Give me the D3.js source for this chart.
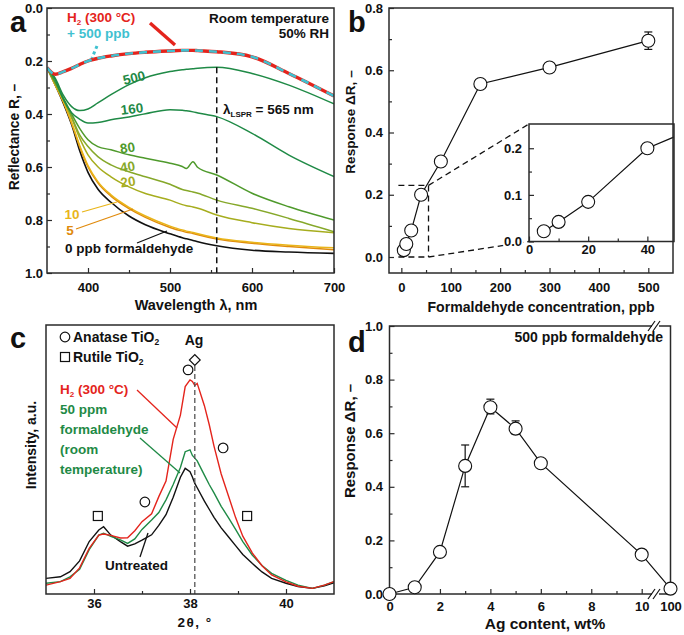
<!DOCTYPE html>
<html><head><meta charset="utf-8">
<script src="https://cdn.jsdelivr.net/npm/d3@7"></script>
<style>
body{margin:0;background:#fff}
svg text{font-family:"Liberation Sans",Arial,Helvetica,sans-serif;font-weight:bold}
</style></head><body>
<svg id="c" width="684" height="635" xmlns="http://www.w3.org/2000/svg"></svg>
<script>
// ---------- Panel a : reflectance spectra ----------
const wavelengths = [350,360,370,380,390,400,412,428,450,470,500,515,520,528,534,557,600,645,700];
const refl0   = [.225,.29,.36,.44,.54,.62,.683,.733,.785,.818,.852,.867,.871,.877,.882,.897,.914,.921,.926];
const refl5   = [.225,.29,.355,.435,.525,.60,.66,.71,.757,.79,.828,.842,.846,.851,.856,.872,.888,.90,.912];
const refl10  = [.225,.29,.355,.432,.52,.595,.655,.705,.752,.785,.823,.838,.842,.847,.852,.868,.884,.895,.905];
const refl20  = [.225,.285,.345,.415,.492,.554,.599,.637,.675,.70,.725,.742,.746,.751,.756,.781,.81,.832,.848];
const refl40  = [.225,.285,.345,.41,.48,.523,.561,.592,.618,.637,.665,.685,.689,.694,.699,.725,.756,.794,.844];
const refl80  = [.225,.28,.34,.40,.455,.497,.523,.535,.554,.567,.586,.598,.606,.58,.602,.63,.699,.75,.80];
const refl160 = [.225,.27,.345,.395,.42,.434,.432,.422,.411,.399,.384,.386,.388,.392,.396,.41,.473,.555,.636];
const refl500 = [.225,.265,.33,.372,.387,.381,.358,.327,.289,.263,.24,.233,.231,.229,.227,.224,.247,.291,.362];
const reflH2  = [.225,.25,.24,.228,.213,.20,.19,.181,.172,.167,.162,.16,.16,.16,.161,.165,.184,.247,.332];
const reflH2plus500 = [.225,.25,.24,.228,.213,.20,.19,.181,.172,.167,.162,.16,.16,.16,.161,.165,.184,.247,.332];
const lsprWavelength = 557;
const aXTicks = [400,500,600,700], aXMinor = [450,550,650];
const aYTicks = [0,.2,.4,.6,.8,1], aYMinor = [.1,.3,.5,.7,.9];

// ---------- Panel b : response vs concentration ----------
const concPpb = [5,10,20,40,80,160,300,500];
const responseB = [0.022,0.042,0.085,0.2,0.307,0.556,0.609,0.695];
const responseBErr = [0,0,0,0,0,0,0,0.028];
const bXTicks = [0,100,200,300,400,500], bXMinor = [50,150,250,350,450];
const bYTicks = [0,.2,.4,.6,.8], bYMinor = [.1,.3,.5,.7];
const insetXTicks = [0,20,40], insetXMinor = [10,30];
const insetYTicks = [0,.1,.2], insetYMinor = [.05,.15];

// ---------- Panel c : XRD ----------
const twoTheta = [35.0,35.3,35.5,35.7,35.9,36.1,36.2,36.35,36.55,36.7,36.85,37.0,37.2,37.35,37.5,37.65,37.8,37.9,38.0,38.05,38.1,38.15,38.3,38.4,38.5,38.65,38.8,38.95,39.1,39.3,39.5,39.7,40.0,40.25,40.55,40.8,41.0];
const xrdUntreated = [5.8,6.4,8.3,12.3,19.5,23.8,25.0,21.9,19.5,17.8,18.6,20.0,22.0,25.5,29.5,36,43.4,46.7,45.5,43.5,41.1,39.5,34.5,31.5,28.5,24.6,21.3,18.0,14.7,11.3,8.2,5.8,4.0,2.8,2.1,3.0,4.2];
const xrdFormaldehyde = [4.0,4.6,6.4,9.2,16.5,21.9,22.6,21.4,20.1,18.8,20.5,24.0,27.5,30.3,35.0,40.7,47.0,52.9,53.6,51.5,50.5,49.5,44.2,40.7,37.6,32.6,28.4,24.0,19.5,14.4,10.6,7.7,5.1,3.3,2.1,3.3,4.6];
const xrdH2 = [3.3,4.6,5.8,9.7,17.0,21.9,22.3,21.8,20.8,20.9,23.5,26.9,29.8,36.2,42.0,57.5,66.5,77.1,79.6,79.0,77.5,78.3,70.0,63.0,55.0,44.6,36.5,28.4,21.5,15.2,10.5,7.1,4.5,2.9,2.1,3.3,4.6];
const anataseAngle = [37.06,37.96,38.69], anataseY = [34.2,83.3,54.3];
const rutileAngle = [36.08,39.19], rutileY = [29,29];
const agAngle = 38.1, agMarkY = 87;
const cXTicks = [36,38,40], cXMinor = [37,39];

// ---------- Panel d : response vs Ag content ----------
const agContent = [0,1,2,3,4,5,6,10,100];
const responseD = [0.0,0.025,0.157,0.478,0.697,0.617,0.488,0.147,0.02];
const responseDLo = [null,null,null,0.40,0.672,0.596,null,null,null];
const responseDHi = [null,null,null,0.556,0.727,0.646,null,null,null];
const dXTicks = [0,2,4,6,8,10,100], dXMinor = [1,3,5,7,9];
const dYTicks = [0,.2,.4,.6,.8,1], dYMinor = [.1,.3,.5,.7,.9];

// =========================================================
const svg = d3.select('#c');
const FS = 13, AX = '#2a2a2a';
const f1 = d3.format('.1f');

function frame(x0,y0,x1,y1){
  svg.append('rect').attr('x',x0).attr('y',y0).attr('width',x1-x0).attr('height',y1-y0)
    .attr('fill','none').attr('stroke',AX).attr('stroke-width',1.5);
}
function styleAxis(g){
  g.select('.domain').remove();
  g.selectAll('line').attr('stroke',AX).attr('stroke-width',1.2);
  g.selectAll('text').attr('font-size',FS).attr('fill','#111');
}
function xAxis(scale,y,major,minor,fmt,pad){
  const g = svg.append('g').attr('transform',`translate(0,${y})`)
    .call(d3.axisBottom(scale).tickValues(major).tickFormat(fmt).tickSize(-5).tickPadding(pad));
  styleAxis(g);
  if(minor){
    const g2 = svg.append('g').attr('transform',`translate(0,${y})`)
      .call(d3.axisBottom(scale).tickValues(minor).tickFormat('').tickSize(-3));
    styleAxis(g2);
  }
}
function yAxis(scale,x,major,minor,fmt,pad){
  const g = svg.append('g').attr('transform',`translate(${x},0)`)
    .call(d3.axisLeft(scale).tickValues(major).tickFormat(fmt).tickSize(-5).tickPadding(pad));
  styleAxis(g);
  if(minor){
    const g2 = svg.append('g').attr('transform',`translate(${x},0)`)
      .call(d3.axisLeft(scale).tickValues(minor).tickFormat('').tickSize(-3));
    styleAxis(g2);
  }
  return g;
}
function text(x,y,str,opt={}){
  const t = svg.append('text').attr('x',x).attr('y',y).attr('font-size',opt.size||FS)
    .attr('fill',opt.color||'#111').attr('text-anchor',opt.anchor||'start');
  if(opt.rotate!==undefined) t.attr('transform',`rotate(${opt.rotate},${x},${y})`);
  if(opt.baseline) t.attr('dominant-baseline',opt.baseline);
  if(opt.spacing) t.attr('letter-spacing',opt.spacing);
  t.text(str);
  return t;
}
function line(x1,y1,x2,y2,color,w,dash){
  const l = svg.append('line').attr('x1',x1).attr('y1',y1).attr('x2',x2).attr('y2',y2)
    .attr('stroke',color).attr('stroke-width',w);
  if(dash) l.attr('stroke-dasharray',dash);
  return l;
}
function clip(id,x0,y0,x1,y1){
  svg.append('clipPath').attr('id',id).append('rect').attr('x',x0).attr('y',y0).attr('width',x1-x0).attr('height',y1-y0);
}

// ================= Panel a =================
const xA = d3.scaleLinear([350,700],[47,334]);
const yA = d3.scaleLinear([0,1],[8,273]);
clip('clipA',47,8,334,273);
const lineA = d3.line().x((d,i)=>xA(wavelengths[i])).y(d=>yA(d)).curve(d3.curveMonotoneX);
const gA = svg.append('g').attr('clip-path','url(#clipA)');
const specs = [
  [refl0,'#111111',1.6],[refl5,'#e08a0c',1.5],[refl10,'#e9b51a',1.5],[refl20,'#a6ad1e',1.5],
  [refl40,'#86a82a',1.5],[refl80,'#4f9a2c',1.5],[refl160,'#1f8a46',1.5],[refl500,'#1f8a46',1.5]
];
specs.forEach(([arr,c,w])=>gA.append('path').attr('d',lineA(arr)).attr('fill','none').attr('stroke',c).attr('stroke-width',w));
gA.append('path').attr('d',lineA(reflH2)).attr('fill','none').attr('stroke','#e4241c').attr('stroke-width',3.4);
gA.append('path').attr('d',lineA(reflH2plus500)).attr('fill','none').attr('stroke','#3fc1d0').attr('stroke-width',2.6).attr('stroke-dasharray','8,6');
line(xA(lsprWavelength),yA(0.224),xA(lsprWavelength),273,'#111',1.5,'6,4');
xAxis(xA,273,aXTicks,aXMinor,d3.format('d'),10);
yAxis(yA,47,aYTicks,aYMinor,f1,4);
frame(47,8,334,273);
text(10,32,'a',{size:29});
text(329,22.5,'Room temperature',{anchor:'end',size:13.5});
text(329,37.5,'50% RH',{anchor:'end',size:13.5});
const h2a = text(67,22,'',{color:'#e4241c',size:13.5});
h2a.append('tspan').text('H');
h2a.append('tspan').attr('font-size',8).attr('dy',2.5).text('2');
h2a.append('tspan').attr('dy',-2.5).text(' (300 °C)');
text(67,38,'+ 500 ppb',{color:'#3fc1d0',size:13.5});
line(150,23,175,45,'#e4241c',3.4);
line(97,46,92,58,'#3fc1d0',3,'3,3');
text(134,78,'500',{color:'#1f8a46',anchor:'middle',baseline:'central',rotate:-14,size:13.5});
text(132,109,'160',{color:'#1f8a46',anchor:'middle',baseline:'central',rotate:-7,size:13.5});
text(127.5,148,'80',{color:'#4f9a2c',anchor:'middle',baseline:'central',rotate:-9,size:13.5});
text(127.5,167,'40',{color:'#86a82a',anchor:'middle',baseline:'central',rotate:-9,size:13.5});
text(128,182,'20',{color:'#a6ad1e',anchor:'middle',baseline:'central',rotate:-9,size:13.5});
text(72,214,'10',{color:'#e9b51a',anchor:'middle',baseline:'central',size:13.5});
text(70,230,'5',{color:'#e08a0c',anchor:'middle',baseline:'central',size:13.5});
text(65,253,'0 ppb formaldehyde',{size:13.5});
line(82,212,117,202,'#e9b51a',1.3);
line(76,229,133,209,'#e08a0c',1.3);
line(137,243,167,231,'#111',1.3);
const ls = text(223,114,'λ',{size:13.5});
ls.append('tspan').attr('font-size',8).attr('dy',3).text('LSPR');
ls.append('tspan').attr('dy',-3).text(' = 565 nm');
text(18.5,137,'Reflectance R, –',{anchor:'middle',rotate:-90,size:13.8});
text(196,310,'Wavelength λ, nm',{anchor:'middle',size:14.5});

// ================= Panel b =================
const xB = d3.scaleLinear([-25,550],[389,673]);
const yB = d3.scaleLinear([-0.0514,0.8],[273,8]);
const ptsB = concPpb.map((c,i)=>[c,responseB[i],responseBErr[i]]);
svg.append('path').attr('d',d3.line().x(d=>xB(d[0])).y(d=>yB(d[1]))(ptsB)).attr('fill','none').attr('stroke','#111').attr('stroke-width',1.2);
ptsB.filter(d=>d[2]>0).forEach(d=>{
  line(xB(d[0]),yB(d[1]-d[2]),xB(d[0]),yB(d[1]+d[2]),'#111',1.2);
  line(xB(d[0])-4,yB(d[1]-d[2]),xB(d[0])+4,yB(d[1]-d[2]),'#111',1.2);
  line(xB(d[0])-4,yB(d[1]+d[2]),xB(d[0])+4,yB(d[1]+d[2]),'#111',1.2);
});
svg.append('g').selectAll('circle').data(ptsB).join('circle')
  .attr('cx',d=>xB(d[0])).attr('cy',d=>yB(d[1])).attr('r',6.5)
  .attr('fill','#fff').attr('stroke','#111').attr('stroke-width',1.1);
// zoom box
const zx0=-6, zx1=55, zy1=0.23;
const dash='6,4';
line(xB(zx0),yB(zy1),xB(zx1),yB(zy1),'#111',1.3,dash);
line(xB(zx1),yB(zy1),xB(zx1),yB(0),'#111',1.3,dash);
line(xB(zx0),yB(0),xB(zx1),yB(0),'#111',1.3,dash);
// inset
const xI = d3.scaleLinear([0,49],[529,674]);
const yI = d3.scaleLinear([0,0.252],[241.5,124]);
line(xB(zx1),yB(zy1),xI(0),yI(0.252),'#111',1.3,dash);
line(xB(zx1),yB(0),xI(0),yI(0),'#111',1.3,dash);
svg.append('rect').attr('x',529).attr('y',124).attr('width',145).attr('height',117.5).attr('fill','#fff');
clip('clipI',529,124,674,241.5);
svg.append('g').attr('clip-path','url(#clipI)').append('path')
  .attr('d',d3.line().x(d=>xI(d[0])).y(d=>yI(d[1]))(ptsB.slice(0,5)))
  .attr('fill','none').attr('stroke','#111').attr('stroke-width',1.2);
svg.append('g').selectAll('circle').data(ptsB.slice(0,4)).join('circle')
  .attr('cx',d=>xI(d[0])).attr('cy',d=>yI(d[1])).attr('r',6.5)
  .attr('fill','#fff').attr('stroke','#111').attr('stroke-width',1.1);
xAxis(xI,241.5,insetXTicks,insetXMinor,d3.format('d'),3.5);
const giy = yAxis(yI,529,insetYTicks,insetYMinor,f1,7);
giy.selectAll('text').attr('stroke','#fff').attr('stroke-width',4).attr('paint-order','stroke');
frame(529,124,674,241.5);
xAxis(xB,273,bXTicks,bXMinor,d3.format('d'),10);
yAxis(yB,389,bYTicks,bYMinor,f1,6);
frame(389,8,673,273);
text(348,32,'b',{size:29});
text(354.5,122,'Response ΔR, –',{anchor:'middle',rotate:-90,size:13.6});
text(541,311.5,'Formaldehyde concentration, ppb',{anchor:'middle',size:14.1});

// ================= Panel c =================
const xC = d3.scaleLinear([35,41],[46,334]);
const yC = d3.scaleLinear([0,100],[594,325]);
clip('clipC',46,325,334,594);
const lineC = d3.line().x((d,i)=>xC(twoTheta[i])).y(d=>yC(d));
const gC = svg.append('g').attr('clip-path','url(#clipC)');
gC.append('path').attr('d',lineC(xrdUntreated)).attr('fill','none').attr('stroke','#111').attr('stroke-width',1.4);
gC.append('path').attr('d',lineC(xrdFormaldehyde)).attr('fill','none').attr('stroke','#1f8a46').attr('stroke-width',1.4);
gC.append('path').attr('d',lineC(xrdH2)).attr('fill','none').attr('stroke','#e4241c').attr('stroke-width',1.4);
line(xC(agAngle),yC(agMarkY)+6,xC(agAngle),594,'#555',1.3,'5,3');
anataseAngle.forEach((a,i)=>svg.append('circle').attr('cx',xC(a)).attr('cy',yC(anataseY[i])).attr('r',4.8).attr('fill','#fff').attr('stroke','#111').attr('stroke-width',1.2));
rutileAngle.forEach((a,i)=>svg.append('rect').attr('x',xC(a)-4.5).attr('y',yC(rutileY[i])-4.5).attr('width',9).attr('height',9).attr('fill','#fff').attr('stroke','#111').attr('stroke-width',1.2));
svg.append('rect').attr('x',-3.8).attr('y',-3.8).attr('width',7.6).attr('height',7.6)
  .attr('transform',`translate(${xC(agAngle)},${yC(agMarkY)}) rotate(45)`)
  .attr('fill','#fff').attr('stroke','#111').attr('stroke-width',1.2);
xAxis(xC,594,cXTicks,cXMinor,d3.format('d'),5);
frame(46,325,334,594);
text(10,348,'c',{size:29});
svg.append('circle').attr('cx',65).attr('cy',337).attr('r',4.8).attr('fill','#fff').attr('stroke','#111').attr('stroke-width',1.2);
svg.append('rect').attr('x',60.5).attr('y',352.5).attr('width',9).attr('height',9).attr('fill','#fff').attr('stroke','#111').attr('stroke-width',1.2);
const an = text(73,341.5,'Anatase TiO',{size:14});
an.append('tspan').attr('font-size',8.5).attr('dy',3).text('2');
const ru = text(73,362,'Rutile TiO',{size:14});
ru.append('tspan').attr('font-size',8.5).attr('dy',3).text('2');
text(194,345,'Ag',{anchor:'middle',size:14});
const h2c = text(60,394,'',{color:'#e4241c',size:13.5});
h2c.append('tspan').text('H');
h2c.append('tspan').attr('font-size',8).attr('dy',3).text('2');
h2c.append('tspan').attr('dy',-3).text(' (300 °C)');
text(60,414,'50 ppm',{color:'#1f8a46',size:13.5});
text(60,434,'formaldehyde',{color:'#1f8a46',size:13.5});
text(60,454,'(room',{color:'#1f8a46',size:13.5});
text(60,474,'temperature)',{color:'#1f8a46',size:13.5});
line(137,390,177,428,'#e4241c',1.3);
line(140,438,180,473,'#1f8a46',1.3);
text(105,570,'Untreated',{size:13.5});
line(140,557,148,533,'#111',1.3);
text(36,445,'Intensity, a.u.',{anchor:'middle',rotate:-90,size:14});
text(195,626.5,'2θ, °',{anchor:'middle',size:13.5,spacing:1.5});

// ================= Panel d =================
const xD = d3.scaleLinear([0,10,100],[389.5,641.7,670.5]);
const yD = d3.scaleLinear([0,1],[594,326]);
const ptsD = agContent.map((a,i)=>[a,responseD[i],responseDLo[i],responseDHi[i]]);
svg.append('path').attr('d',d3.line().x(d=>xD(d[0])).y(d=>yD(d[1]))(ptsD)).attr('fill','none').attr('stroke','#111').attr('stroke-width',1.2);
ptsD.filter(d=>d[2]!==null).forEach(d=>{
  line(xD(d[0]),yD(d[2]),xD(d[0]),yD(d[3]),'#111',1.2);
  line(xD(d[0])-4,yD(d[2]),xD(d[0])+4,yD(d[2]),'#111',1.2);
  line(xD(d[0])-4,yD(d[3]),xD(d[0])+4,yD(d[3]),'#111',1.2);
});
xAxis(xD,594,dXTicks,dXMinor,d3.format('d'),8);
yAxis(yD,389.5,dYTicks,dYMinor,f1,6.5);
frame(389.5,326,670.5,594);
// axis breaks
[594,326].forEach(yy=>{
  svg.append('rect').attr('x',652).attr('y',yy-3).attr('width',7).attr('height',6).attr('fill','#fff');
  line(648,yy+5,655,yy-5,'#111',1.2);
  line(653,yy+5,660,yy-5,'#111',1.2);
});
svg.append('g').selectAll('circle').data(ptsD).join('circle')
  .attr('cx',d=>xD(d[0])).attr('cy',d=>yD(d[1])).attr('r',6.5)
  .attr('fill','#fff').attr('stroke','#111').attr('stroke-width',1.1);
text(348,352,'d',{size:29});
text(663,342,'500 ppb formaldehyde',{anchor:'end',size:14});
text(354.5,441,'Response ΔR, –',{anchor:'middle',rotate:-90,size:15});
text(545,629,'Ag content, wt%',{anchor:'middle',size:15.5});
</script></body></html>
